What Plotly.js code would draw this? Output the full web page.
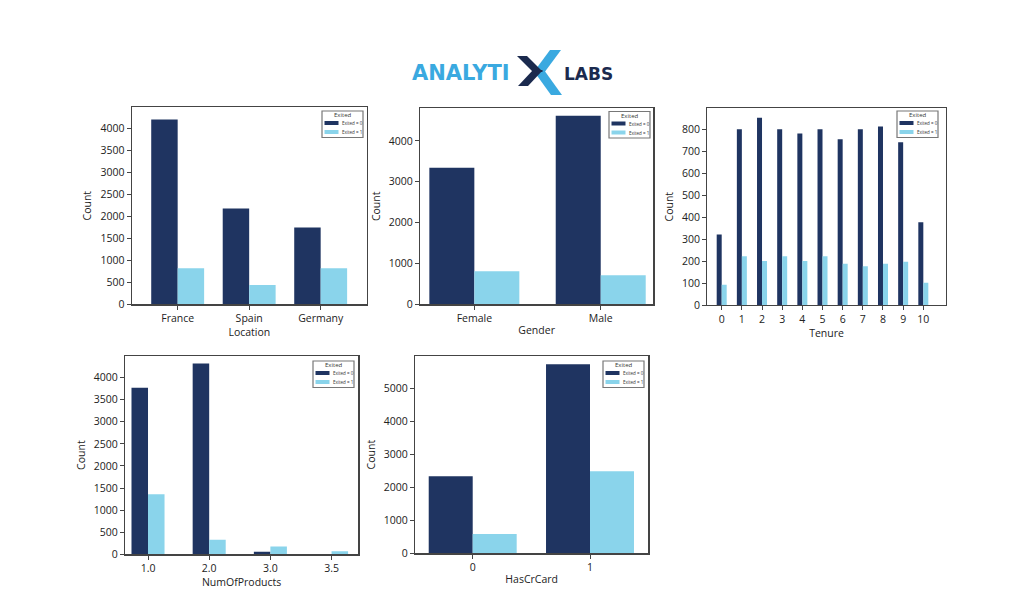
<!DOCTYPE html>
<html>
<head>
<meta charset="utf-8">
<script src="https://cdn.plot.ly/plotly-3.0.1.min.js"></script>
<style>html,body{margin:0;padding:0;background:#fff;}#chart{width:1024px;height:594px;}</style>
</head>
<body>
<div id="chart"></div>
<script>
// ---- data ----
const locations = ['France', 'Spain', 'Germany'];
const locationStay = [4204, 2180, 1750];
const locationExit = [820, 440, 820];

const genders = ['Female', 'Male'];
const genderStay = [3340, 4615];
const genderExit = [810, 710];

const tenures = [0, 1, 2, 3, 4, 5, 6, 7, 8, 9, 10];
const tenureStay = [321, 800, 852, 800, 780, 800, 754, 800, 812, 740, 376];
const tenureExit = [92, 222, 200, 222, 200, 222, 188, 176, 188, 197, 101];

const products = ['1.0', '2.0', '3.0', '3.5'];
const productStay = [3770, 4321, 60, 0];
const productExit = [1361, 328, 174, 70];

const cards = ['0', '1'];
const cardStay = [2336, 5736];
const cardExit = [584, 2490];

const seriesNames = ['Exited = 0', 'Exited = 1'];
const legendTitle = 'Exited';
const xTitles = ['Location', 'Gender', 'Tenure', 'NumOfProducts', 'HasCrCard'];
const yTitle = 'Count';

// ---- layout constants ----
const W = 1024, H = 594;
const DARK = '#1f3461', LIGHT = '#8ad4eb';
const FONT = 'Open Sans, Arial, sans-serif';
const px = x => x / W;
const py = y => 1 - y / H;

const boxes = [
  {x0: 131.7, x1: 367, y0: 107, y1: 304.3},
  {x0: 420, x1: 653.3, y0: 108.3, y1: 304.3},
  {x0: 707.3, x1: 945.7, y0: 108.3, y1: 305},
  {x0: 125, x1: 358.3, y0: 356, y1: 554.3},
  {x0: 415, x1: 648.3, y0: 356, y1: 553.3}
];
const xRanges = [[-0.643, 2.648], [-0.43, 1.416], [-0.714, 11.11], [-0.376, 3.437], [-0.492, 1.497]];
const yRanges = [[0, 4490], [0, 4797], [0, 895], [0, 4490], [0, 5990]];
const yDticks = [500, 1000, 100, 500, 1000];
const barW = [0.37, 0.356, 0.248, 0.27, 0.375];
const legendPos = [[322, 111], [609, 111.5], [897, 111], [313, 361], [603, 361]];

const panels = [
  [locations, locationStay, locationExit],
  [genders, genderStay, genderExit],
  [tenures, tenureStay, tenureExit],
  [products, productStay, productExit],
  [cards, cardStay, cardExit]
];

const traces = [];
const layout = {
  width: W, height: H,
  margin: {l: 0, r: 0, t: 0, b: 0},
  paper_bgcolor: '#fff', plot_bgcolor: '#fff',
  showlegend: false,
  font: {family: FONT, size: 10, color: '#222'},
  shapes: [], annotations: []
};

panels.forEach((p, i) => {
  const n = i === 0 ? '' : String(i + 1);
  const xa = 'x' + n, ya = 'y' + n;
  traces.push({
    type: 'bar', x: p[0], y: p[1], name: seriesNames[0], xaxis: xa, yaxis: ya,
    marker: {color: DARK, line: {width: 0}}, width: barW[i], offset: -barW[i], hoverinfo: 'x+y+name'
  });
  traces.push({
    type: 'bar', x: p[0], y: p[2], name: seriesNames[1], xaxis: xa, yaxis: ya,
    marker: {color: LIGHT, line: {width: 0}}, width: barW[i], offset: 0, hoverinfo: 'x+y+name'
  });
  const b = boxes[i];
  const axCommon = {
    showline: true, mirror: true, linecolor: '#444', linewidth: 1.2,
    ticks: 'outside', ticklen: 4, tickwidth: 1, tickcolor: '#444',
    showgrid: false, zeroline: false, fixedrange: true, automargin: false,
    tickfont: {family: FONT, size: 10.5, color: '#222'}
  };
  layout['xaxis' + n] = Object.assign({}, axCommon, {
    anchor: ya, domain: [px(b.x0), px(b.x1)], range: xRanges[i],
    type: i === 2 ? 'linear' : 'category',
    tickmode: i === 2 ? 'array' : undefined,
    tickvals: i === 2 ? tenures : undefined,
    title: {text: xTitles[i], font: {family: FONT, size: 10.5, color: '#222'}, standoff: 2}
  });
  layout['yaxis' + n] = Object.assign({}, axCommon, {
    anchor: xa, domain: [py(b.y1), py(b.y0)], range: yRanges[i], dtick: yDticks[i], tick0: 0,
    title: {text: yTitle, font: {family: FONT, size: 10.5, color: '#222'}, standoff: 6}
  });

  // legend box drawn as shapes + text
  const [lx, ly] = legendPos[i];
  const lw = 41, lh = 26.5;
  layout.shapes.push({type: 'rect', xref: 'paper', yref: 'paper',
    x0: px(lx), x1: px(lx + lw), y0: py(ly + lh), y1: py(ly),
    line: {color: '#777', width: 1.2}, fillcolor: '#fff'});
  layout.annotations.push({xref: 'paper', yref: 'paper', x: px(lx + lw / 2), y: py(ly + 4.5),
    text: legendTitle, showarrow: false, xanchor: 'center', yanchor: 'middle',
    font: {family: FONT, size: 6, color: '#333'}});
  [DARK, LIGHT].forEach((c, k) => {
    const cy = ly + 12 + k * 9;
    layout.shapes.push({type: 'rect', xref: 'paper', yref: 'paper',
      x0: px(lx + 2.5), x1: px(lx + 16.5), y0: py(cy + 2), y1: py(cy - 2),
      line: {width: 0}, fillcolor: c});
    layout.annotations.push({xref: 'paper', yref: 'paper', x: px(lx + 18), y: py(cy),
      text: seriesNames[k], showarrow: false, xanchor: 'left', yanchor: 'middle',
      font: {family: FONT, size: 4.5, color: '#333'}});
  });
});

// ---- logo ----
const poly = pts => 'M' + pts.map(q => px(q[0]) + ',' + py(q[1])).join('L') + 'Z';
const LOGO_LIGHT = '#3aa9e0', LOGO_DARK = '#1b2a4e';
layout.shapes.push(
  {type: 'path', xref: 'paper', yref: 'paper', line: {width: 0}, fillcolor: LOGO_LIGHT,
   path: poly([[550, 50], [561, 50], [544, 73], [533, 73]])},
  {type: 'path', xref: 'paper', yref: 'paper', line: {width: 0}, fillcolor: LOGO_LIGHT,
   path: poly([[533, 70], [544, 70], [562, 95], [551, 95]])},
  {type: 'path', xref: 'paper', yref: 'paper', line: {width: 0}, fillcolor: LOGO_DARK,
   path: poly([[517, 56], [527, 56], [543, 72], [533, 72]])},
  {type: 'path', xref: 'paper', yref: 'paper', line: {width: 0}, fillcolor: LOGO_DARK,
   path: poly([[533, 70], [543, 70], [528, 86], [518, 86]])}
);
layout.annotations.push(
  {xref: 'paper', yref: 'paper', x: px(410), y: py(72.5), text: 'ANALYTI', showarrow: false,
   xanchor: 'left', yanchor: 'middle', font: {family: 'DejaVu Sans, sans-serif', size: 21, weight: 'bold', color: LOGO_LIGHT}},
  {xref: 'paper', yref: 'paper', x: px(562), y: py(74), text: 'LABS', showarrow: false,
   xanchor: 'left', yanchor: 'middle', font: {family: 'DejaVu Sans, sans-serif', size: 17, weight: 'bold', color: LOGO_DARK}}
);

Plotly.newPlot('chart', traces, layout, {staticPlot: true, displayModeBar: false});
</script>
</body>
</html>
